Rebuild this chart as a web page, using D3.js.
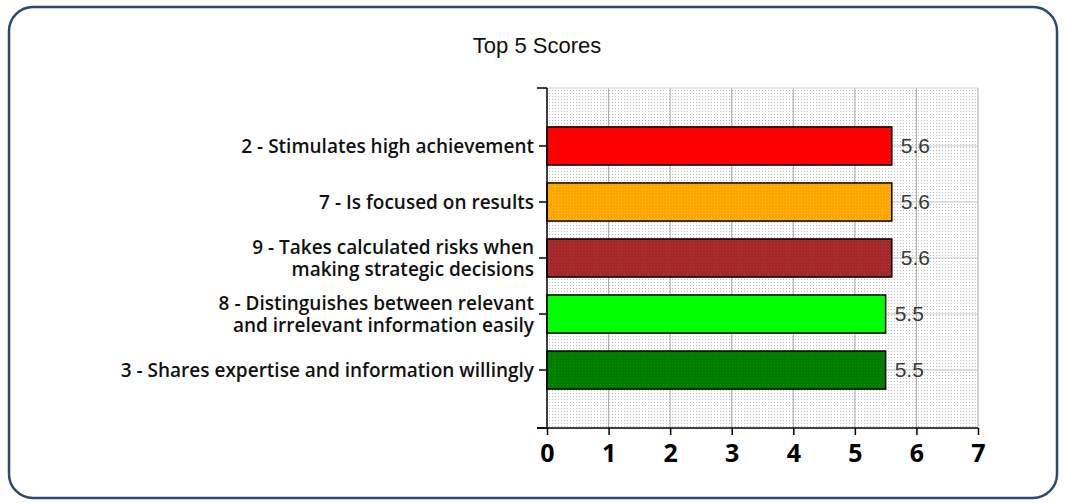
<!DOCTYPE html>
<html>
<head>
<meta charset="utf-8">
<script src="https://cdn.jsdelivr.net/npm/d3@7"></script>
<style>
  body { margin: 0; background: #fff; }
  svg { display: block; }
</style>
</head>
<body>
<svg id="chart"></svg>
<script>
// data
const categories = [
  ["2 - Stimulates high achievement"],
  ["7 - Is focused on results"],
  ["9 - Takes calculated risks when", "making strategic decisions"],
  ["8 - Distinguishes between relevant", "and irrelevant information easily"],
  ["3 - Shares expertise and information willingly"]
];
const scores = [5.6, 5.6, 5.6, 5.5, 5.5];
const barColors = ["#ff0000", "#ffa500", "#a3282a", "#00ff00", "#007d00"];
const dotted = [false, true, true, false, true];
const xTicks = [0, 1, 2, 3, 4, 5, 6, 7];

const width = 1065, height = 504;
const margin = {left: 547, right: 87, top: 88, bottom: 76};

const svg = d3.select("#chart").attr("width", width).attr("height", height);
const defs = svg.append("defs");

// dotted background pattern
const bg = defs.append("pattern").attr("id", "bgdots")
  .attr("width", 3).attr("height", 3).attr("patternUnits", "userSpaceOnUse");
bg.append("rect").attr("width", 3).attr("height", 3).attr("fill", "#fff");
bg.append("rect").attr("width", 1).attr("height", 1).attr("fill", "#bcbcbc");

// dotted bar fill patterns
barColors.forEach((c, i) => {
  const p = defs.append("pattern").attr("id", "bar" + i)
    .attr("width", 3).attr("height", 3).attr("patternUnits", "userSpaceOnUse");
  p.append("rect").attr("width", 3).attr("height", 3).attr("fill", c);
  if (dotted[i]) {
    p.append("rect").attr("width", 1).attr("height", 1)
      .attr("fill", d3.color(c).brighter(0.5));
  }
});

// outer frame
svg.append("rect")
  .attr("x", 9).attr("y", 7).attr("width", 1048).attr("height", 491)
  .attr("rx", 24).attr("ry", 24)
  .attr("fill", "#fff").attr("stroke", "#2c4677").attr("stroke-width", 2.5);

svg.append("text")
  .attr("x", 537).attr("y", 53)
  .attr("text-anchor", "middle")
  .attr("font-family", "Liberation Sans, Arial, sans-serif")
  .attr("font-size", 22)
  .attr("fill", "#111")
  .text("Top 5 Scores");

const x = d3.scaleLinear().domain([0, 7]).range([margin.left, width - margin.right]);
const y = d3.scaleBand().domain(d3.range(categories.length))
  .range([margin.top, height - margin.bottom])
  .paddingInner(0.32).paddingOuter(0.695);

const plot = svg.append("g");
plot.append("rect")
  .attr("x", x(0)).attr("y", margin.top)
  .attr("width", x(7) - x(0)).attr("height", height - margin.bottom - margin.top)
  .attr("fill", "url(#bgdots)");

// vertical grid
plot.selectAll("line.vg").data(xTicks.slice(1)).join("line")
  .attr("x1", d => x(d)).attr("x2", d => x(d))
  .attr("y1", margin.top).attr("y2", height - margin.bottom)
  .attr("stroke", "#a8a8a8").attr("stroke-width", 1);

// horizontal grid at category centres
plot.selectAll("line.hg").data(d3.range(categories.length)).join("line")
  .attr("x1", x(0)).attr("x2", x(7))
  .attr("y1", d => y(d) + y.bandwidth() / 2).attr("y2", d => y(d) + y.bandwidth() / 2)
  .attr("stroke", "#c8c8c8").attr("stroke-width", 1);

plot.append("line")
  .attr("x1", x(0)).attr("x2", x(7)).attr("y1", margin.top).attr("y2", margin.top)
  .attr("stroke", "#d0d0d0");

// bars
plot.selectAll("rect.bar").data(scores).join("rect")
  .attr("class", "bar")
  .attr("x", x(0))
  .attr("y", (d, i) => y(i))
  .attr("width", d => x(d) - x(0))
  .attr("height", y.bandwidth())
  .attr("fill", (d, i) => "url(#bar" + i + ")")
  .attr("stroke", "#000").attr("stroke-width", 1.5);

// value labels
plot.selectAll("text.val").data(scores).join("text")
  .attr("x", d => x(d) + 9)
  .attr("y", (d, i) => y(i) + y.bandwidth() / 2)
  .attr("dy", "0.35em")
  .attr("font-family", "Liberation Sans, Arial, sans-serif")
  .attr("font-size", 21)
  .attr("fill", "#3a3a3a")
  .text(d => d3.format(".1f")(d));

// axes
const yAxis = svg.append("g").attr("transform", `translate(${x(0)},0)`);
yAxis.append("line").attr("y1", margin.top).attr("y2", height - margin.bottom)
  .attr("stroke", "#000").attr("stroke-width", 1.5);
yAxis.selectAll("line.t").data([margin.top, height - margin.bottom]).join("line")
  .attr("x1", -10).attr("x2", 0).attr("y1", d => d).attr("y2", d => d)
  .attr("stroke", "#000").attr("stroke-width", 1.5);
yAxis.selectAll("line.c").data(d3.range(categories.length)).join("line")
  .attr("x1", -8).attr("x2", 0)
  .attr("y1", d => y(d) + y.bandwidth() / 2).attr("y2", d => y(d) + y.bandwidth() / 2)
  .attr("stroke", "#000").attr("stroke-width", 1.5);

// category labels, one text per line
categories.forEach((lines, i) => {
  const cy = y(i) + y.bandwidth() / 2;
  const off = -(lines.length - 1) / 2 * 22;
  lines.forEach((ln, j) => {
    yAxis.append("text")
      .attr("x", -13)
      .attr("y", cy + off + j * 22)
      .attr("dy", "0.35em")
      .attr("text-anchor", "end")
      .attr("font-family", "Open Sans, DejaVu Sans, sans-serif")
      .attr("font-weight", 600)
      .attr("font-size", 19)
      .attr("fill", "#111")
      .text(ln);
  });
});

const xAxis = svg.append("g")
  .attr("transform", `translate(0,${height - margin.bottom})`)
  .call(d3.axisBottom(x).tickValues(xTicks).tickSize(7).tickPadding(9).tickFormat(d3.format("d")));
xAxis.select(".domain").attr("stroke", "#000").attr("stroke-width", 1.5)
  .attr("d", `M${x(0) - 10},0H${x(7)}`);
xAxis.selectAll(".tick line").attr("stroke", "#000").attr("stroke-width", 1.5);
xAxis.selectAll(".tick text")
  .attr("font-family", "Open Sans, DejaVu Sans, sans-serif")
  .attr("font-weight", 700)
  .attr("font-size", 25)
  .attr("fill", "#000");
</script>
</body>
</html>
